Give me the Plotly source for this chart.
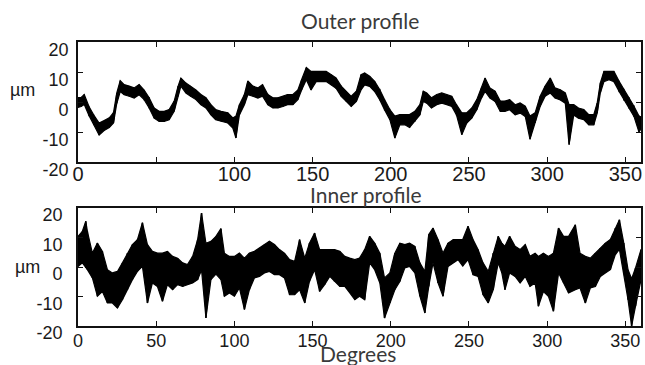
import plotly.graph_objects as go

# ---------------- data (upper / lower edge of the noisy trace) ----------------
outer_deg = [0, 2, 4, 7, 10, 13.5, 16.7, 20, 22.7, 24.8, 27, 29.5, 32.7, 35.9, 39.1, 42.3, 45.5, 48.7,
             51.9, 55.1, 58.3, 61.5, 64, 65.8, 69, 72, 75.4, 78.6, 81.8, 85, 88, 91.5, 95.8, 99, 101,
             103.2, 106.4, 108.6, 111.8, 115, 118, 121.4, 124.6, 127.8, 131, 134, 137.4, 140.6, 143,
             146, 149, 152.3, 155.5, 158.7, 162, 165, 168.3, 171.5, 174.7, 178, 181, 183.3, 186.5,
             189.7, 193, 196, 199.4, 202.6, 205.8, 209, 212, 215.4, 218.6, 220.8, 223, 226, 229.4,
             232.6, 235.8, 239, 242, 245.4, 248.6, 251.8, 255, 258, 260.3, 263.4, 266.7, 270, 273,
             276, 279.5, 282.7, 286, 289, 292.3, 295.5, 298.7, 302, 305, 308.4, 311.6, 314, 317, 320,
             323.4, 326.6, 329.8, 332, 334, 336.3, 339.5, 342.7, 346, 349, 352.3, 355.5, 358.7, 360]
outer_hi = [1.5, 1.5, 2.5, -1.5, -4.3, -7, -6.2, -5.3, -3.5, 3, 7.1, 5.8, 5.3, 4.7, 5.8, 4, 1.4, -2,
            -3.1, -3.1, -2.5, 0.3, 5.3, 8, 6.3, 5.3, 4, 2.5, 1.4, -0.9, -2.5, -3.1, -3.6, -5.3, -4.7,
            -0.9, 2.5, 7, 5.3, 4.7, 5.8, 2.5, 1.4, 1.4, 1.9, 2.5, 2.5, 4, 7.5,
            11.5, 10.2, 10.2, 10.2, 10.2, 9.1, 8, 5.3, 3.6, 1.9, 3.6, 9.1, 9.7, 8.6,
            6.9, 4.1, 0.8, -2.5, -4.7, -4.2, -4.2, -4.2, -3.1, -0.9, 3.6, 3, 1.4, 2.5,
            3, 2.5, 1.9, -0.9, -3.6, -3.6, -2, 0.8, 4.7, 8, 4.7, 3.6, 0.3, 0.3,
            0.8, -0.9, -0.3, -1.4, -4.7, -3.6, 1.9, 5.3, 8, 4.7, 4.1, 3, -0.9, -0.9, -2,
            -2.5, -4.2, -4.2, -0.3, 6.4, 10.2, 10.2, 10.2, 6.9, 4.1, 1.4, -1.4, -4.7, -5]
outer_lo = [-1.8, -1.5, -0.8, -4.5, -7.5, -11, -9.5, -8.5, -7, -0.5, 3.5, 2.4, 1.9, 1.3, 2.4, 0.8, -2, -5.4,
            -6.5, -6.5, -5.9, -3.1, 1.9, 5.3, 3, 1.9, 0.8, -0.9, -2, -4.3, -5.9, -6.5, -7, -8.7, -12,
            -4.3, -0.9, 2.4, 1.9, 1.3, 1.9, -0.9, -2, -2, -1.5, -0.9, -0.9, 0.8, 4,
            7.4, 4, 6.8, 6.8, 6.8, 5.7, 4.6, 1.9, 0.2, -1.5, 0.2, 4, 5.7, 5.2,
            3.5, 0.7, -2.6, -5.9, -12, -7.6, -7.6, -8.5, -6.5, -4.3, 0.2, -0.4, -2, -0.9,
            -0.4, -0.9, -1.5, -4.3, -10.9, -7, -5.4, -2.6, 1.3, 3.5, 1.3, 0.2, -3.1, -3.1,
            -2.6, -4.3, -3.7, -4.8, -12.4, -7, -1.5, 1.9, 3, 1.3, 0.7, -0.4, -14.2, -4.3, -5.4,
            -5.9, -7.6, -7.6, -3.7, 3, 6.8, 7.4, 6.8, 3.5, 0.7, -2, -4.8, -10, -9]

inner_deg = [0, 2.8, 5, 6, 9.2, 12.4, 15.6, 18.8, 22, 25.2, 28.4, 31.6, 34.8, 38, 41.2, 44.4, 47.6,
             50.8, 54, 57.2, 60.5, 63.7, 66.9, 70, 73.3, 76.5, 79, 81.8, 85, 88.2, 91.4, 93.6, 96.8,
             100, 103.2, 106.4, 109.6, 112.8, 116, 119.2, 122.4, 125.6, 128.8, 132, 135.3, 138.5,
             141.7, 145, 148, 151.3, 154.5, 157.7, 161, 164, 167.4, 170.6, 173.8, 177, 180, 183.3,
             186.5, 189.7, 193, 196, 199.4, 202.6, 205.8, 209, 212, 215.4, 218.6, 221.8, 224.3, 227,
             230.2, 233.4, 236.6, 240, 243, 246, 249.4, 252.6, 255.8, 259, 262.3, 265.5, 268.7, 271,
             273, 276, 279.5, 282.7, 286, 289, 292.3, 294.4, 297.6, 300.8, 304, 307.3, 310.5, 313.7,
             318, 321, 324.4, 327.6, 330.8, 334, 337.2, 340.4, 343.6, 346.2, 349, 351.7, 354, 356.5, 360]
inner_hi = [10.4, 12.1, 15.5, 12.1, 4.7, 8.1, 5.3, -0.9, -2, -1.5, 1.4, 4.7, 7.6, 9.3, 15, 7.6, 5.3,
            4.7, 4.7, 5.3, 3.6, 3, 1.4, 0.8, 3.6, 9.3, 18.3, 8, 8.7, 10.4, 13, 4.7, 3.6,
            3.6, 4.7, 3, 4.7, 5.3, 6.4, 7.6, 8.7, 7.6, 5.9, 4.7, 2.5, 1.9,
            9.3, 3, 8.1, 11.5, 5.9, 5.9, 5.9, 5.9, 5.3, 3.6, 3, 2.5, 3, 5.9,
            10.4, 8.1, 4.7, -3.7, -2, 4.7, 8.1, 7.6, 8.1, 7, 1.4, -1.5, 11, 13.2,
            9.3, 4.7, 8.1, 9.3, 9.3, 9.3, 13.8, 9.3, 5.9, 1.4, -1.5, 4.7, 10.4, 8.1,
            7, 10.4, 7, 5.9, 7.6, 3.6, 4.7, 3.6, 4.7, 3.6, 4.7, 13.2, 10.4, 10.4,
            14.3, 4.7, 3.6, 3, 4.7, 6.4, 8.1, 9.3, 13.2, 16, 8.1, -0.9, -4, -0.3, 5.9]
inner_lo = [0.2, 1.4, -0.3, -0.9, -3.7, -9.9, -8.3, -12.2, -12.2, -13.9, -11.1, -7.7, -4.3, -1.5, 0.2, -12.2, -5.4,
            -6.6, -11.6, -6, -7.7, -6, -6.6, -6, -5.4, -4.3, -1, -17.3, -4.3, -2.4, -4.3, -9.9, -8.8,
            -9.9, -7.1, -14.4, -7.7, -3.7, -3.2, -2, -1.5, -2.6, -2.6, -3.7, -9.4, -9.4,
            -7.7, -12.2, -4.9, -0.9, -8.3, -6, -3.2, -4.9, -6.6, -6.6, -8.8, -11.1, -9.9, -11.1,
            1.4, -0.9, -5.4, -17.3, -12.2, -7.7, -4.9, -0.3, 0.2, -2, -9.9, -15.6, -6.6, 1.4,
            -5.4, -9.9, 0.2, 1.4, 2.5, 0.3, 2.5, -2.6, -3.2, -9.4, -12.2, -7.7, 1.4, -2,
            -7.7, -2, -3.2, -5.4, -3.2, -6.6, -5.4, -13.3, -8.3, -9.9, -15, -2, -5.4, -8.8,
            -7.7, -7.1, -12.2, -7.1, -6.6, -3.2, -2, -0.9, 4.2, 6, -2, -11.1, -20, -13.3, -4.3]

y_ticks = [-20, -10, 0, 10, 20]
y_ticktext = ["-20", "-10", "0", "10", "20"]
x_ticks = [0, 50, 100, 150, 200, 250, 300, 350]
outer_x_ticktext = ["0", "", "100", "150", "200", "250", "300", "350"]
inner_x_ticktext = ["0", "50", "100", "150", "200", "250", "300", "350"]

# ---------------- figure ----------------
fig = go.Figure()


def band(deg, hi, lo, xa, ya):
    xs = list(deg) + list(deg)[::-1]
    ys = list(hi) + list(lo)[::-1]
    fig.add_trace(go.Scatter(x=xs, y=ys, mode="lines", fill="toself", fillcolor="black",
                             line=dict(color="black", width=1.2), xaxis=xa, yaxis=ya,
                             showlegend=False, hoverinfo="skip"))


def zigzag(deg, hi, lo, xa, ya, width):
    xs, ys = [], []
    for d, h, l in zip(deg, hi, lo):
        xs += [d, d]
        ys += [h, l]
    fig.add_trace(go.Scatter(x=xs, y=ys, mode="lines", line=dict(color="black", width=width),
                             xaxis=xa, yaxis=ya, showlegend=False, hoverinfo="skip"))


band(outer_deg, outer_hi, outer_lo, "x", "y")
zigzag(outer_deg, outer_hi, outer_lo, "x", "y", 1.2)
band(inner_deg, inner_hi, inner_lo, "x2", "y2")
zigzag(inner_deg, inner_hi, inner_lo, "x2", "y2", 1.5)

W, H = 645, 365
axis_common = dict(showline=True, mirror="ticks", linecolor="#111", linewidth=1.6,
                   ticks="inside", ticklen=5, tickcolor="#111", tickwidth=1.2,
                   showgrid=False, zeroline=False, automargin=False)
tickfont = dict(family="Liberation Sans, Arial, sans-serif", size=18, color="#1a1a1a")

fig.update_layout(
    template="none",
    width=W, height=H, margin=dict(l=0, r=0, t=0, b=0, pad=0),
    paper_bgcolor="white", plot_bgcolor="white",
    xaxis=dict(domain=[78 / W, 641 / W], range=[0, 360], tickvals=x_ticks,
               ticktext=outer_x_ticktext, anchor="y",
               tickfont=dict(family="Liberation Sans, Arial, sans-serif", size=20, color="#1a1a1a"),
               ticklabelstandoff=-7, **axis_common),
    yaxis=dict(domain=[1 - 162 / H, 1 - 42 / H], range=[-20, 20], tickvals=y_ticks,
               ticktext=y_ticktext, anchor="x", tickfont=tickfont, ticklabelstandoff=4,
               ticklabelshift=8, **axis_common),
    xaxis2=dict(domain=[78 / W, 641 / W], range=[0, 360], tickvals=x_ticks,
                ticktext=inner_x_ticktext, anchor="y2", tickfont=tickfont,
                ticklabelstandoff=-2, **axis_common),
    yaxis2=dict(domain=[1 - 326 / H, 1 - 208 / H], range=[-20, 20], tickvals=y_ticks,
                ticktext=y_ticktext, anchor="x2", tickfont=tickfont, ticklabelstandoff=10,
                ticklabelshift=7, **axis_common),
)

title_font = dict(family="Lato, Open Sans, sans-serif", size=21, color="#3a3a3a")
fig.add_annotation(text="Outer profile", x=360 / W, y=1 - 20 / H, xref="paper", yref="paper",
                   showarrow=False, font=title_font, xanchor="center", yanchor="middle")
fig.add_annotation(text="Inner profile", x=366 / W, y=1 - 194 / H, xref="paper", yref="paper",
                   showarrow=False, font=title_font, xanchor="center", yanchor="middle")
fig.add_annotation(text="Degrees", x=358 / W, y=1 - 353 / H, xref="paper", yref="paper",
                   showarrow=False, font=title_font, xanchor="center", yanchor="middle")
fig.add_annotation(text="µm", x=22 / W, y=1 - 90 / H, xref="paper", yref="paper",
                   showarrow=False, font=tickfont, xanchor="center", yanchor="middle")
fig.add_annotation(text="µm", x=27 / W, y=1 - 267 / H, xref="paper", yref="paper",
                   showarrow=False, font=tickfont, xanchor="center", yanchor="middle")

fig.write_html("out.html")
